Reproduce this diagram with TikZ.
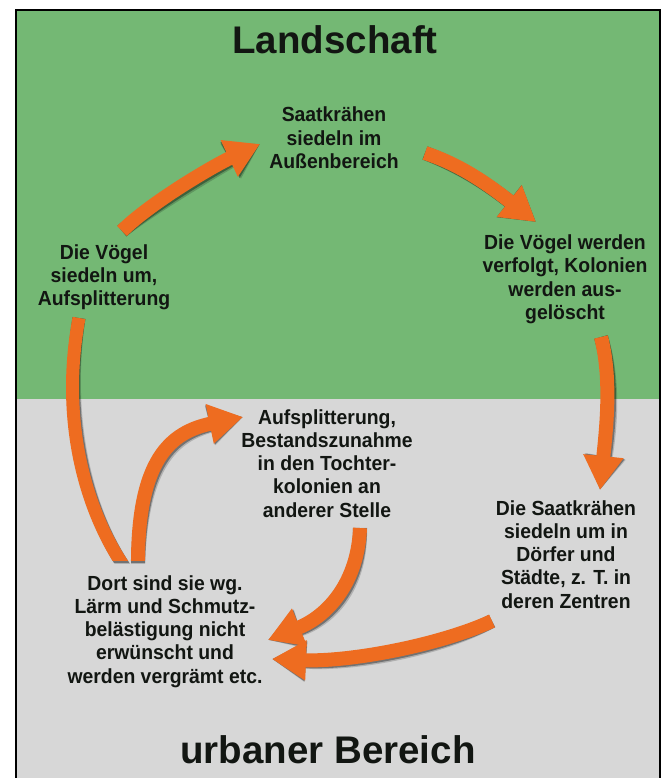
\documentclass[tikz,border=0pt]{standalone}
\usepackage{fontspec}
\setmainfont{Liberation Sans}
\newfontfamily\bodyfont[FakeStretch=0.95]{Liberation Sans}
\usetikzlibrary{arrows.meta}
\definecolor{bggreen}{HTML}{74B874}
\definecolor{bggray}{HTML}{D7D7D7}
\definecolor{arroworange}{HTML}{EE6C20}
\definecolor{txtdark}{HTML}{121612}
\tikzset{
  lbl/.style={align=center, anchor=base, inner sep=0pt,
    font=\bodyfont\bfseries\fontsize{20.4}{23.3}\selectfont, text=txtdark},
  ttl/.style={anchor=base, inner sep=0pt,
    font=\bfseries\fontsize{38.5}{46}\selectfont, text=txtdark},
  flow/.style={line width=14pt, -{Triangle[width=38pt,length=34pt]}},
  flowplain/.style={line width=13pt},
}
\newcommand\allflows{%
  \draw[flow] (c1s) .. controls (150,203) and (213,166) .. (c1e);
  \draw[flow] (c2s) .. controls (455,163) and (480,178) .. (c2e);
  \draw[flow] (c3s) .. controls (612,380) and (606,430) .. (c3e);
  \begin{scope}
    \clip (0,0) rectangle (661,560);
    \draw[flowplain] (c4s) .. controls (85,510) and (60,420) .. (c4e);
    \draw[flow] (c5s) .. controls (137,460) and (170,432) .. (c5e);
  \end{scope}
  \draw[flow] (c6s) .. controls (358,580) and (330,615) .. (c6e);
  \draw[flow] (c7s) .. controls (440,645) and (350,662) .. (c7e);
}
\begin{document}
\begin{tikzpicture}[x=1pt,y=-1pt]
\useasboundingbox (0,0) rectangle (661,778);
\fill[white] (0,0) rectangle (661,778);
\fill[bggreen] (15,10) rectangle (659,399);
\fill[bggray] (15,399) rectangle (659,778);
\draw[black, line width=2pt] (15.5,780) -- (15.5,10.5) -- (659.5,10.5) -- (659.5,780);

% titles
\node[ttl] (land) at (335,53.5) {Landschaft};
\node[ttl] (urban) at (328,763) {urbaner Bereich};

% labels (anchor base = baseline of last line)
\node[lbl] (A) at (334,168.6) {Saatkrähen\\siedeln im\\Außenbereich};
\node[lbl] (B) at (565,319.4) {Die Vögel werden\\verfolgt, Kolonien\\werden aus-\\gelöscht};
\node[lbl] (C) at (104,305.9) {Die Vögel\\siedeln um,\\Aufsplitterung};
\node[lbl] (D) at (327,517.2) {Aufsplitterung,\\Bestandszunahme\\in den Tochter-\\kolonien an\\anderer Stelle};
\node[lbl] (E) at (566,608.2) {Die Saatkrähen\\siedeln um in\\Dörfer und\\Städte, z. T. in\\deren Zentren};
\node[lbl] (F) at (165,683.2) {Dort sind sie wg.\\Lärm und Schmutz-\\belästigung nicht\\erwünscht und\\werden vergrämt etc.};

% arrow end points
\coordinate (c1s) at (122,231); \coordinate (c1e) at (260,144);
\coordinate (c2s) at (425,153); \coordinate (c2e) at (536,222);
\coordinate (c3s) at (601,337); \coordinate (c3e) at (600,490);
\coordinate (c4s) at (125,568); \coordinate (c4e) at (79,318);
\coordinate (c5s) at (138,568); \coordinate (c5e) at (243,417);
\coordinate (c6s) at (360,528); \coordinate (c6e) at (268,640);
\coordinate (c7s) at (492,621); \coordinate (c7e) at (272,659);

% soft shadows
\begin{scope}[shift={(3.5,3.5)}, transparency group, opacity=0.18, draw=black, fill=black]
  \allflows
\end{scope}
\begin{scope}[shift={(2,2)}, transparency group, opacity=0.35, draw=black, fill=black]
  \allflows
\end{scope}

% arrows
\begin{scope}[draw=arroworange, fill=arroworange]
  \allflows
\end{scope}
\end{tikzpicture}
\end{document}
